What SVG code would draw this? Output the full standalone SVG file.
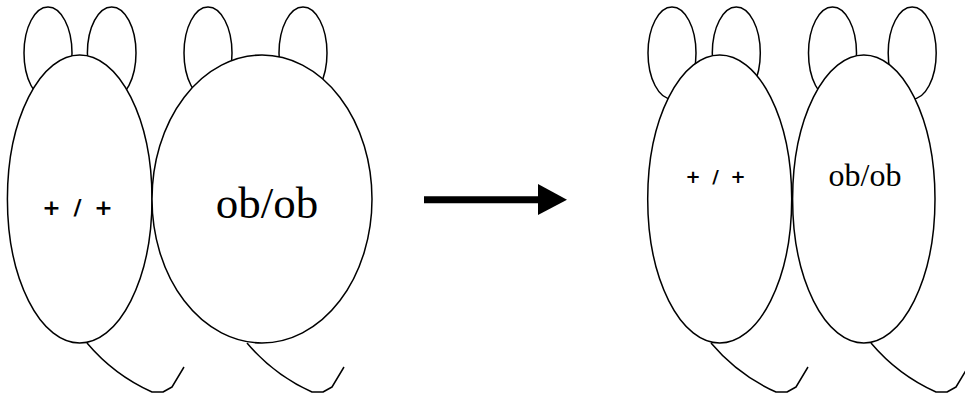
<svg xmlns="http://www.w3.org/2000/svg" width="965" height="396" viewBox="0 0 965 396">
<style>
.o{fill:#fff;stroke:#000;stroke-width:1.5}
.t{fill:none;stroke:#000;stroke-width:1.5;stroke-linejoin:round}
.sans{font-family:"DejaVu Sans",sans-serif;font-weight:bold;text-anchor:middle;fill:#000}
.ser{font-family:"Liberation Serif","Times New Roman",serif;text-anchor:middle;fill:#000}
</style>
<rect width="965" height="396" fill="#fff"/>
<g id="mouse1">
<ellipse class="o" cx="48" cy="53" rx="24" ry="46"/>
<ellipse class="o" cx="111.7" cy="53" rx="24.3" ry="46"/>
<path class="t" d="M87,343 Q114,375 152,392 L163,392 L172,387 L184,367"/>
<ellipse class="o" cx="79.7" cy="199" rx="72.3" ry="144"/>
<text class="sans" x="51.5 64.5 77.5 90.5 103.5" y="215" font-size="22">+ / +</text>
</g>
<g id="mouse2">
<ellipse class="o" cx="208" cy="53" rx="24" ry="46"/>
<ellipse class="o" cx="303" cy="53" rx="24" ry="46"/>
<path class="t" d="M247,343 Q274,375 312,392 L323,392 L332,387 L344,367"/>
<ellipse class="o" cx="262" cy="199" rx="110" ry="144"/>
<text class="ser" x="267" y="218" font-size="45">ob/ob</text>
</g>
<g id="mouse3">
<ellipse class="o" cx="672" cy="53" rx="24" ry="46"/>
<ellipse class="o" cx="736.3" cy="53" rx="24" ry="46"/>
<path class="t" d="M711,343 Q738,375 776,392 L787,392 L796,387 L808,367"/>
<ellipse class="o" cx="719.7" cy="199" rx="72" ry="144"/>
<text class="sans" x="693 704 715.5 727 738" y="182.5" font-size="18">+ / +</text>
</g>
<g id="mouse4">
<ellipse class="o" cx="832.5" cy="53" rx="24" ry="46"/>
<ellipse class="o" cx="912.2" cy="53" rx="24" ry="46"/>
<path class="t" d="M871,343 Q898,375 936,392 L947,392 L956,387 L968,367"/>
<ellipse class="o" cx="863.8" cy="199" rx="71.2" ry="144"/>
<text class="ser" x="865" y="186" font-size="32">ob/ob</text>
</g>
<g id="connectors">
<line x1="424" y1="199.7" x2="540" y2="199.7" stroke="#000" stroke-width="7"/>
<polygon points="538,184 567,199.7 538,215" fill="#000"/>
</g>
</svg>
